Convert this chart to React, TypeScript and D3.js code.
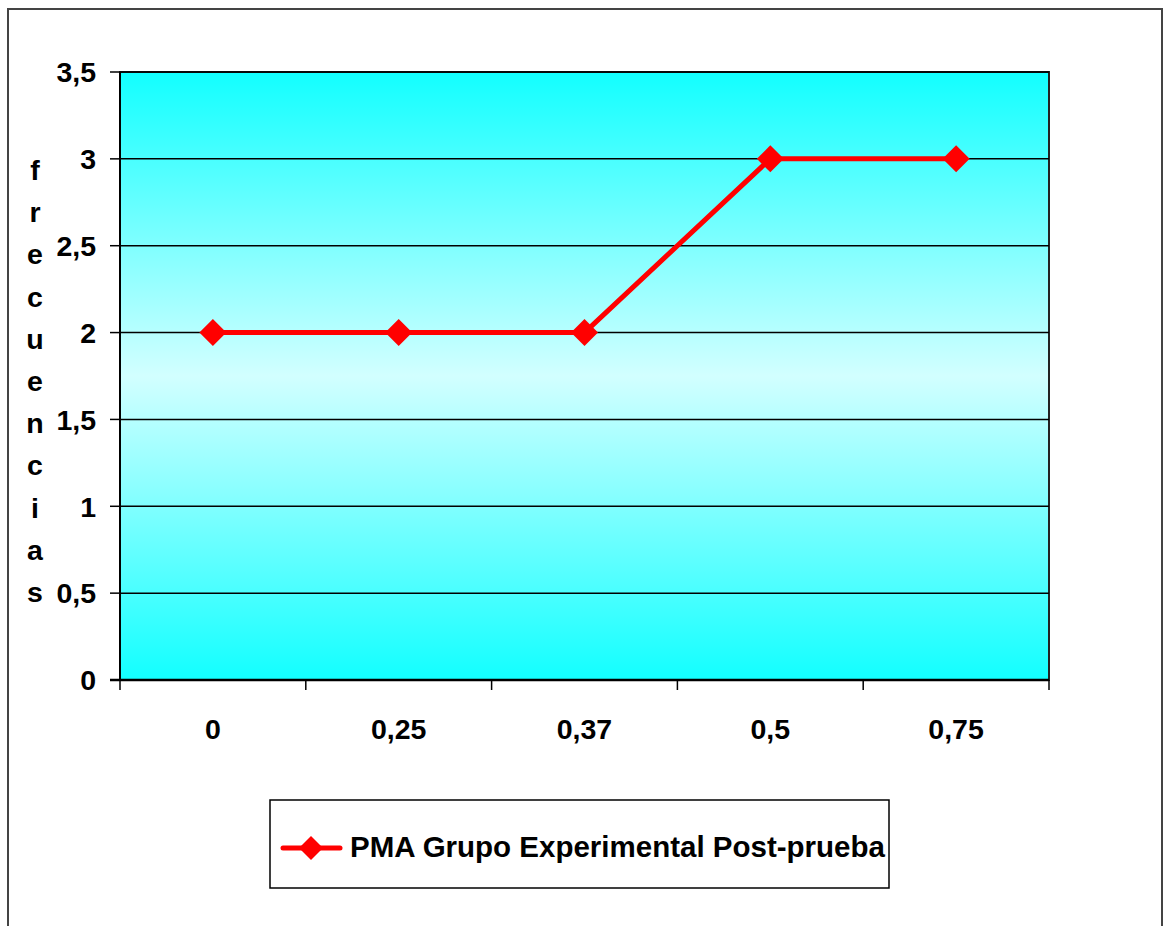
import * as d3 from 'd3';
import React from 'react';

// Chart data
const categories = ['0', '0,25', '0,37', '0,5', '0,75'];
const values = [2, 2, 2, 3, 3];
const yTicks = [0, 0.5, 1, 1.5, 2, 2.5, 3, 3.5];
const yTitle = 'frecuencias';
const seriesName = 'PMA Grupo Experimental Post-prueba';

const W = 1163, H = 926;
const plot = { left: 120, top: 72, right: 1049, bottom: 680 };
const FONT = "'Liberation Sans', Arial, sans-serif";

// comma decimal formatting
const esFormat = d3.formatLocale({ decimal: ',', thousands: '.', grouping: [3], currency: ['', '€'] }).format('~g');

const App = () => {
  const x = d3.scaleBand<string>().domain(categories).range([plot.left, plot.right]);
  const y = d3.scaleLinear().domain([0, 3.5]).range([plot.bottom, plot.top]);
  const cx = (c: string) => (x(c) ?? 0) + x.bandwidth() / 2;

  const line = d3.line<number>()
    .x((_, i) => cx(categories[i]))
    .y(d => y(d));

  const diamond = (px: number, py: number, r: number) =>
    `M${px},${py - r}L${px + r},${py}L${px},${py + r}L${px - r},${py}Z`;

  const boundaries = [...categories.map(c => x(c) ?? 0), plot.right];

  return (
    <svg width={W} height={H} style={{ position: 'absolute', left: 0, top: 0 }} fontFamily={FONT}>
      <defs>
        <linearGradient id="bg" x1="0" y1="0" x2="0" y2="1">
          <stop offset="0%" stopColor="#12FFFF" />
          <stop offset="50%" stopColor="#D2FFFF" />
          <stop offset="100%" stopColor="#12FFFF" />
        </linearGradient>
      </defs>
      <rect x={0} y={0} width={W} height={H} fill="#fff" />
      {/* outer chart border */}
      <path d={`M8,${H + 5}V9H1162V${H + 5}`} fill="none" stroke="#444" strokeWidth={2} />

      {/* plot area */}
      <rect x={plot.left} y={plot.top} width={plot.right - plot.left} height={plot.bottom - plot.top}
        fill="url(#bg)" stroke="#222" strokeWidth={2} />

      {/* gridlines and y ticks */}
      {yTicks.map(t => (
        <g key={t}>
          <line x1={plot.left} x2={plot.right} y1={y(t)} y2={y(t)} stroke="#000" strokeWidth={1.5} />
          <line x1={plot.left - 10} x2={plot.left} y1={y(t)} y2={y(t)} stroke="#000" strokeWidth={1.5} />
          <text x={96} y={y(t)} dy="0.36em" textAnchor="end" fontSize={28.5} fontWeight="bold">{esFormat(t)}</text>
        </g>
      ))}

      {/* x axis */}
      <line x1={plot.left - 10} x2={plot.right} y1={plot.bottom} y2={plot.bottom} stroke="#000" strokeWidth={2.5} />
      <line x1={plot.left} x2={plot.left} y1={plot.top} y2={plot.bottom} stroke="#000" strokeWidth={2} />
      {boundaries.map((b, i) => (
        <line key={i} x1={b} x2={b} y1={plot.bottom} y2={plot.bottom + 10} stroke="#000" strokeWidth={1.5} />
      ))}
      {categories.map(c => (
        <text key={c} x={cx(c)} y={739} textAnchor="middle" fontSize={28.5} fontWeight="bold">{c}</text>
      ))}

      {/* y axis title, stacked letters */}
      {yTitle.split('').map((ch, i) => (
        <text key={i} x={35} y={180 + i * 42.2} textAnchor="middle" fontSize={28.5} fontWeight="bold">{ch}</text>
      ))}

      {/* series */}
      <path d={line(values) ?? ''} fill="none" stroke="#FF0000" strokeWidth={5} strokeLinejoin="round" />
      {values.map((v, i) => (
        <path key={i} d={diamond(cx(categories[i]), y(v), 13.5)} fill="#FF0000" />
      ))}

      {/* legend */}
      <rect x={270} y={800} width={619} height={88} fill="#fff" stroke="#000" strokeWidth={1.5} />
      <line x1={283} x2={340} y1={848} y2={848} stroke="#FF0000" strokeWidth={5} strokeLinecap="round" />
      <path d={diamond(311, 848, 12)} fill="#FF0000" />
      <text x={350} y={857} fontSize={29.5} fontWeight="bold">{seriesName}</text>
    </svg>
  );
};

export default App;
